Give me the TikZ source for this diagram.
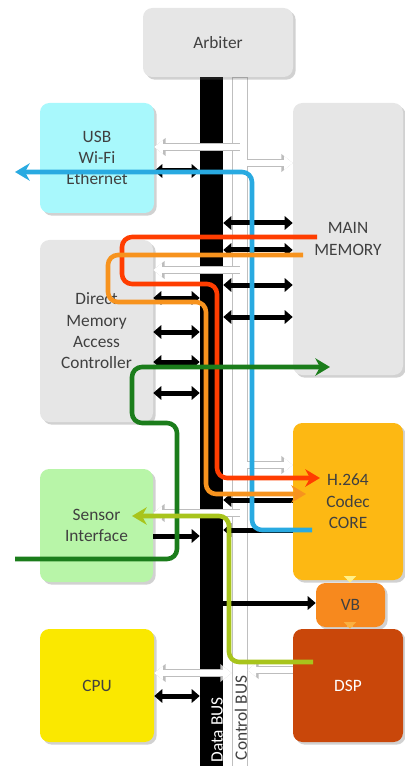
\documentclass[tikz,border=0pt]{standalone}
\usepackage{fontspec}
\setmainfont{Carlito}
\usetikzlibrary{arrows.meta,shadows}
\definecolor{txt}{HTML}{404040}
\definecolor{greybox}{HTML}{E6E6E6}
\definecolor{usbc}{HTML}{A8F8FC}
\definecolor{senc}{HTML}{B8F5A8}
\definecolor{h264c}{HTML}{FDB813}
\definecolor{vbc}{HTML}{F7891E}
\definecolor{dspc}{HTML}{C9470A}
\definecolor{cpuc}{HTML}{FAE800}
\definecolor{blueln}{HTML}{29AAE1}
\definecolor{redln}{HTML}{FF3D00}
\definecolor{orangeln}{HTML}{F7931E}
\definecolor{greenln}{HTML}{1B7D1B}
\definecolor{ygln}{HTML}{A8C41C}
\definecolor{vbarrow}{HTML}{FFF08A}
\definecolor{dsparrow}{HTML}{FBB040}
\tikzset{
  box/.style={rounded corners=7pt, inner sep=0pt, align=center, text=txt,
    font=\fontsize{13}{16}\selectfont,
    drop shadow={shadow xshift=2pt, shadow yshift=-2pt, opacity=0.3, fill=black!60}},
  blkd/.style={draw=black, line width=3.75pt, {Triangle[length=6pt,width=10pt]}-{Triangle[length=6pt,width=10pt]}},
  blks/.style={draw=black, line width=3.75pt, -{Triangle[length=6pt,width=10pt]}},
  wht/.style={draw=white, line width=4.8pt, -{Triangle[length=6.5pt,width=10pt]},
    preaction={draw=black!26, line width=6.6pt, -{Triangle[length=8.5pt,width=13pt]}}},
  whtd/.style={draw=white, line width=4.8pt, {Triangle[length=6.5pt,width=10pt]}-{Triangle[length=6.5pt,width=10pt]},
    preaction={draw=black!26, line width=6.6pt, {Triangle[length=8.5pt,width=13pt]}-{Triangle[length=8.5pt,width=13pt]}}},
  cline/.style={line width=3.4pt, rounded corners=7.5pt, -{Stealth[length=11pt,width=13pt,inset=3.5pt]}},
  small/.style={line width=4pt, -{Triangle[length=5pt,width=9pt]}}
}
\begin{document}
\begin{tikzpicture}[x=0.75pt,y=-0.75pt]
\useasboundingbox (0,0) rectangle (404,766);
% buses
\node[fill=black, minimum width=17.25pt, minimum height=516.75pt, inner sep=0pt] (dbus) at (211.5,421.5) {};
\node[fill=white, draw=black!25, line width=0.6pt, minimum width=11.25pt, minimum height=516.75pt, inner sep=0pt] (cbus) at (239.5,421.5) {};
% boxes
\node[box, fill=greybox, minimum width=112.5pt, minimum height=51.75pt] (arb) at (218,42.5) {Arbiter};
\node[box, fill=usbc, minimum width=85.5pt, minimum height=82.5pt] (usb) at (97,158) {USB\\Wi-Fi\\Ethernet};
\node[box, fill=greybox, minimum width=82.5pt, minimum height=204pt] (mem) at (348,239) {MAIN\\MEMORY};
\node[box, fill=greybox, minimum width=84.75pt, minimum height=136.5pt] (dma) at (96.5,331) {Direct\\Memory\\Access\\Controller};
\node[box, fill=senc, minimum width=84.75pt, minimum height=84.75pt] (sen) at (96.5,525.5) {Sensor\\Interface};
\node[box, fill=h264c, minimum width=82.5pt, minimum height=117.75pt] (h264) at (348,501.5) {H.264\\Codec\\CORE};
\node[box, fill=vbc, minimum width=51.75pt, minimum height=33pt] (vb) at (350.5,605) {VB};
\node[box, fill=cpuc, minimum width=85.5pt, minimum height=84.75pt] (cpu) at (97,685.5) {CPU};
\node[box, fill=dspc, text=white, minimum width=82.5pt, minimum height=84.75pt] (dsp) at (348,685.5) {DSP};
% bus labels
\node[rotate=90, text=white, font=\fontsize{13}{16}\selectfont, inner sep=0pt] (dlab) at (217,730) {Data BUS};
\node[rotate=90, text=txt, font=\fontsize{13}{16}\selectfont, inner sep=0pt] (clab) at (241,718) {Control BUS};
% black arrows to main memory
\foreach \yy in {223,250,285,317}
  \draw[blkd] (dbus.east |- 0,\yy) -- (mem.west |- 0,\yy);
% black arrows to DMA
\foreach \yy in {298,332,362,393}
  \draw[blkd] (dma.east |- 0,\yy) -- (dbus.west |- 0,\yy);
\draw[blkd] (usb.east |- 0,171) -- (dbus.west |- 0,171);
\draw[blkd] (cpu.east |- 0,696) -- (dbus.west |- 0,696);
\draw[blks] (sen.east |- 0,536) -- (dbus.west |- 0,536);
\draw[blks] (h264.west |- 0,500) -- (dbus.east |- 0,500);
\draw[blks] (h264.west |- 0,530) -- (dbus.east |- 0,530);
\draw[blks] (dbus.east |- 0,603) -- (vb.west |- 0,603);
% white arrows
\draw[wht] (cbus.center |- 0,147) -- (usb.east |- 0,147);
\draw[wht] (cbus.east |- 0,163) -- (mem.west |- 0,163);
\draw[wht] (cbus.center |- 0,270) -- (dma.east |- 0,270);
\draw[wht] (cbus.east |- 0,465) -- (h264.west |- 0,465);
\draw[wht] (cbus.center |- 0,513) -- (sen.east |- 0,513);
\draw[wht] (dsp.west |- 0,670) -- (cbus.east |- 0,670);
\draw[whtd] (cpu.east |- 0,673) -- (cbus.west |- 0,673);
% small arrows
\draw[small, vbarrow] (h264.south -| 350,0) -- (vb.north -| 350,0);
\draw[small, dsparrow] (vb.south -| 350,0) -- (dsp.north -| 350,0);
% coloured flows
\coordinate (bS) at (312,530);
\coordinate (bE) at (15,172);
\draw[cline, blueln] (bS) -- (252,530) -- (252,172) -- (bE);
\coordinate (rS) at (317,237);
\coordinate (rE) at (320,478);
\draw[cline, redln] (rS) -- (122,237) -- (122,284) -- (217,284) -- (217,478) -- (rE);
\coordinate (oS) at (303,255);
\coordinate (oE) at (306,494);
\draw[cline, orangeln] (oS) -- (108,255) -- (108,302) -- (206,302) -- (206,494) -- (oE);
\coordinate (gS) at (15,559);
\coordinate (gE) at (330,367);
\draw[cline, greenln] (gS) -- (177,559) -- (177,423) -- (132,423) -- (132,367) -- (gE);
\coordinate (yS) at (313,662);
\coordinate (yE) at (132,516);
\draw[cline, ygln] (yS) -- (229,662) -- (229,516) -- (yE);
\end{tikzpicture}
\end{document}
